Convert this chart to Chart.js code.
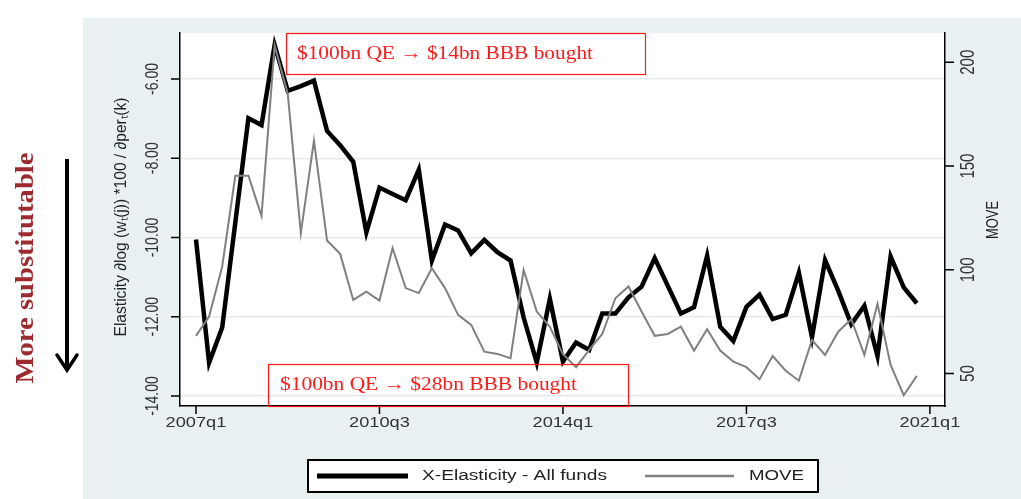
<!DOCTYPE html>
<html>
<head>
<meta charset="utf-8">
<script src="https://cdn.jsdelivr.net/npm/chart.js@4.4.1/dist/chart.umd.min.js"></script>
<style>
  html, body { margin: 0; padding: 0; background: #fff; }
  canvas { display: block; }
</style>
</head>
<body>
<canvas id="elasticityChart" width="1021" height="499"></canvas>
<script>
// Quarterly X-elasticity (left axis) vs MOVE index (right axis)
const quarters = [
    '2007q1', '2007q2', '2007q3', '2007q4', '2008q1', '2008q2', '2008q3', '2008q4',
    '2009q1', '2009q2', '2009q3', '2009q4', '2010q1', '2010q2', '2010q3', '2010q4',
    '2011q1', '2011q2', '2011q3', '2011q4', '2012q1', '2012q2', '2012q3', '2012q4',
    '2013q1', '2013q2', '2013q3', '2013q4', '2014q1', '2014q2', '2014q3', '2014q4',
    '2015q1', '2015q2', '2015q3', '2015q4', '2016q1', '2016q2', '2016q3', '2016q4',
    '2017q1', '2017q2', '2017q3', '2017q4', '2018q1', '2018q2', '2018q3', '2018q4',
    '2019q1', '2019q2', '2019q3', '2019q4', '2020q1', '2020q2', '2020q3', '2020q4'
];

const elasticity = [
    -10.05, -13.16, -12.27, -9.62, -6.99, -7.16, -5.14, -6.30,
    -6.18, -6.04, -7.31, -7.67, -8.09, -9.87, -8.74, -8.90,
    -9.06, -8.29, -10.58, -9.67, -9.82, -10.40, -10.06, -10.37,
    -10.58, -12.02, -13.16, -11.55, -13.13, -12.65, -12.84, -11.92,
    -11.92, -11.51, -11.24, -10.52, -11.22, -11.92, -11.76, -10.46,
    -12.25, -12.61, -11.75, -11.44, -12.06, -11.95, -10.89, -12.52,
    -10.57, -11.34, -12.19, -11.72, -12.99, -10.48, -11.26, -11.66
];

const move = [
    68.2, 77.5, 101.6, 145.3, 145.3, 126.0, 208.0, 185.0,
    117.7, 162.2, 114.1, 107.7, 85.5, 89.5, 85.2, 110.5,
    91.2, 88.8, 100.8, 91.2, 78.3, 73.5, 60.6, 59.5,
    57.4, 100.0, 79.9, 72.6, 59.4, 53.1, 61.4, 69.1,
    86.3, 92.0, 79.9, 68.2, 69.1, 72.6, 61.0, 71.4,
    61.1, 55.8, 53.1, 47.3, 58.5, 51.4, 46.6, 66.2,
    59.0, 70.2, 76.2, 59.0, 83.6, 54.2, 39.6, 48.9
];

const xTickLabels = ['2007q1', '2010q3', '2014q1', '2017q3', '2021q1'];
const leftTicks = [-14, -12, -10, -8, -6];
const rightTicks = [50, 100, 150, 200];

const seriesNames = ['X-Elasticity - All funds', 'MOVE'];
const notes = ['$100bn QE \u2192 $14bn BBB bought', '$100bn QE \u2192 $28bn BBB bought'];

// quarter label -> position on the linear x axis (0 = 2007q1)
function qIndex(label) {
    const year = parseInt(label.slice(0, 4), 10);
    const q = parseInt(label.slice(5), 10);
    return (year - 2007) * 4 + (q - 1);
}

const SANS = '"Liberation Sans", Arial, sans-serif';
const SERIF = '"Liberation Serif", "Times New Roman", serif';

// draw text, optionally rotated (reading upward) and stretched
function drawText(ctx, str, x, y, o) {
    ctx.save();
    ctx.translate(x, y);
    if (o.rotate) ctx.rotate(-Math.PI / 2);
    ctx.font = o.font;
    ctx.fillStyle = o.color || '#222';
    ctx.textAlign = o.align || 'center';
    ctx.textBaseline = 'middle';
    const w = ctx.measureText(str).width;
    const along = o.len ? o.len / w : (o.stretch || 1);
    ctx.scale(along, o.perp || 1);
    ctx.fillText(str, 0, 0);
    ctx.restore();
}

const backgroundPlugin = {
    id: 'panelBackground',
    beforeDraw(chart) {
        const { ctx, chartArea: a } = chart;
        ctx.save();
        ctx.fillStyle = '#ffffff';
        ctx.fillRect(0, 0, chart.width, chart.height);
        ctx.fillStyle = '#e8f0f2';
        ctx.fillRect(83, 18, chart.width - 83, chart.height - 18);
        ctx.fillStyle = '#ffffff';
        ctx.fillRect(a.left, a.top, a.right - a.left, a.bottom - a.top);
        ctx.restore();
    }
};

const decorPlugin = {
    id: 'decor',
    afterDraw(chart) {
        const { ctx, chartArea: a } = chart;
        const xs = chart.scales.x, yl = chart.scales.y, yr = chart.scales.y2;
        ctx.save();

        // tick marks
        ctx.strokeStyle = '#000';
        ctx.lineWidth = 1.5;
        ctx.beginPath();
        leftTicks.forEach(v => {
            const y = yl.getPixelForValue(v);
            ctx.moveTo(a.left - 9, y); ctx.lineTo(a.left, y);
        });
        rightTicks.forEach(v => {
            const y = yr.getPixelForValue(v);
            ctx.moveTo(a.right, y); ctx.lineTo(a.right + 9, y);
        });
        xTickLabels.forEach(l => {
            const x = xs.getPixelForValue(qIndex(l));
            ctx.moveTo(x, a.bottom); ctx.lineTo(x, a.bottom + 8);
        });
        ctx.stroke();

        // tick labels
        xTickLabels.forEach(l => {
            drawText(ctx, l, xs.getPixelForValue(qIndex(l)), a.bottom + 17,
                { font: '14px ' + SANS, color: '#333', stretch: 1.3 });
        });
        leftTicks.forEach(v => {
            drawText(ctx, v.toFixed(2), 153, yl.getPixelForValue(v),
                { font: '14px ' + SANS, color: '#333', rotate: true, perp: 1.3 });
        });
        rightTicks.forEach(v => {
            drawText(ctx, String(v), 968, yr.getPixelForValue(v),
                { font: '15px ' + SANS, color: '#333', rotate: true, perp: 1.4 });
        });

        // axis titles
        drawText(ctx, 'Elasticity \u2202log (w\u209c(j)) *100 / \u2202per\u209c(k)', 122, 217,
            { font: '13px ' + SANS, color: '#222', rotate: true, len: 239, perp: 1.25 });
        drawText(ctx, 'MOVE', 994, 220,
            { font: '13px ' + SANS, color: '#222', rotate: true, len: 38, perp: 1.2 });

        // annotation boxes
        ctx.strokeStyle = '#ff1a1a';
        ctx.lineWidth = 1.2;
        ctx.strokeRect(286.5, 33.5, 359, 41);
        ctx.strokeRect(268.5, 364.5, 360, 42);
        drawText(ctx, notes[0], 297, 54,
            { font: '19px ' + SERIF, color: '#ff1a1a', align: 'left', len: 296 });
        drawText(ctx, notes[1], 280, 385,
            { font: '19px ' + SERIF, color: '#ff1a1a', align: 'left', len: 297 });

        // side label and arrow
        drawText(ctx, 'More substitutable', 26, 268,
            { font: 'bold 22px ' + SERIF, color: '#9c2a2e', rotate: true, len: 231, perp: 1.15 });
        ctx.strokeStyle = '#000';
        ctx.lineWidth = 4;
        ctx.beginPath();
        ctx.moveTo(67, 159); ctx.lineTo(67, 369);
        ctx.stroke();
        ctx.lineWidth = 3.5;
        ctx.lineCap = 'round';
        ctx.beginPath();
        ctx.moveTo(57, 355); ctx.lineTo(67, 370); ctx.lineTo(77, 355);
        ctx.stroke();
        ctx.lineCap = 'butt';

        // legend
        ctx.fillStyle = '#fff';
        ctx.fillRect(308, 460, 510, 32);
        ctx.strokeStyle = '#000';
        ctx.lineWidth = 2;
        ctx.strokeRect(308, 460, 510, 32);
        ctx.lineWidth = 5;
        ctx.beginPath(); ctx.moveTo(317, 476); ctx.lineTo(408, 476); ctx.stroke();
        ctx.strokeStyle = '#808080';
        ctx.lineWidth = 2.5;
        ctx.beginPath(); ctx.moveTo(645, 476); ctx.lineTo(734, 476); ctx.stroke();
        drawText(ctx, seriesNames[0], 422, 476,
            { font: '14px ' + SANS, color: '#222', align: 'left', len: 185 });
        drawText(ctx, seriesNames[1], 749, 476,
            { font: '14px ' + SANS, color: '#222', align: 'left', len: 55 });

        ctx.restore();
    }
};

new Chart(document.getElementById('elasticityChart'), {
    type: 'line',
    data: {
        datasets: [
            {
                label: seriesNames[0],
                data: elasticity.map((v, i) => ({ x: i, y: v })),
                borderColor: '#000000',
                borderWidth: 4.5,
                pointRadius: 0,
                tension: 0,
                yAxisID: 'y',
                order: 1
            },
            {
                label: seriesNames[1],
                data: move.map((v, i) => ({ x: i, y: v })),
                borderColor: '#808080',
                borderWidth: 2,
                pointRadius: 0,
                tension: 0,
                yAxisID: 'y2',
                order: 0
            }
        ]
    },
    options: {
        responsive: false,
        animation: false,
        devicePixelRatio: 1,
        layout: { padding: { top: 33, left: 0, right: 0, bottom: 0 } },
        plugins: {
            legend: { display: false },
            tooltip: { enabled: false }
        },
        scales: {
            x: {
                type: 'linear',
                min: -1.22,
                max: 57.15,
                grid: { display: false },
                border: { display: true, color: '#000', width: 1.5 },
                ticks: { display: false },
                afterBuildTicks: s => { s.ticks = xTickLabels.map(l => ({ value: qIndex(l) })); },
                afterFit: s => { s.height = 93; }
            },
            y: {
                position: 'left',
                min: -14.252,
                max: -4.839,
                grid: { color: '#e3ebef', lineWidth: 1.5, drawTicks: false },
                border: { display: true, color: '#000', width: 1.5 },
                ticks: { display: false },
                afterBuildTicks: s => { s.ticks = leftTicks.map(v => ({ value: v })); },
                afterFit: s => { s.width = 180; }
            },
            y2: {
                position: 'right',
                min: 34.4,
                max: 214.1,
                grid: { display: false },
                border: { display: true, color: '#000', width: 1.5 },
                ticks: { display: false },
                afterBuildTicks: s => { s.ticks = rightTicks.map(v => ({ value: v })); },
                afterFit: s => { s.width = 76; }
            }
        }
    },
    plugins: [backgroundPlugin, decorPlugin]
});
</script>
</body>
</html>
